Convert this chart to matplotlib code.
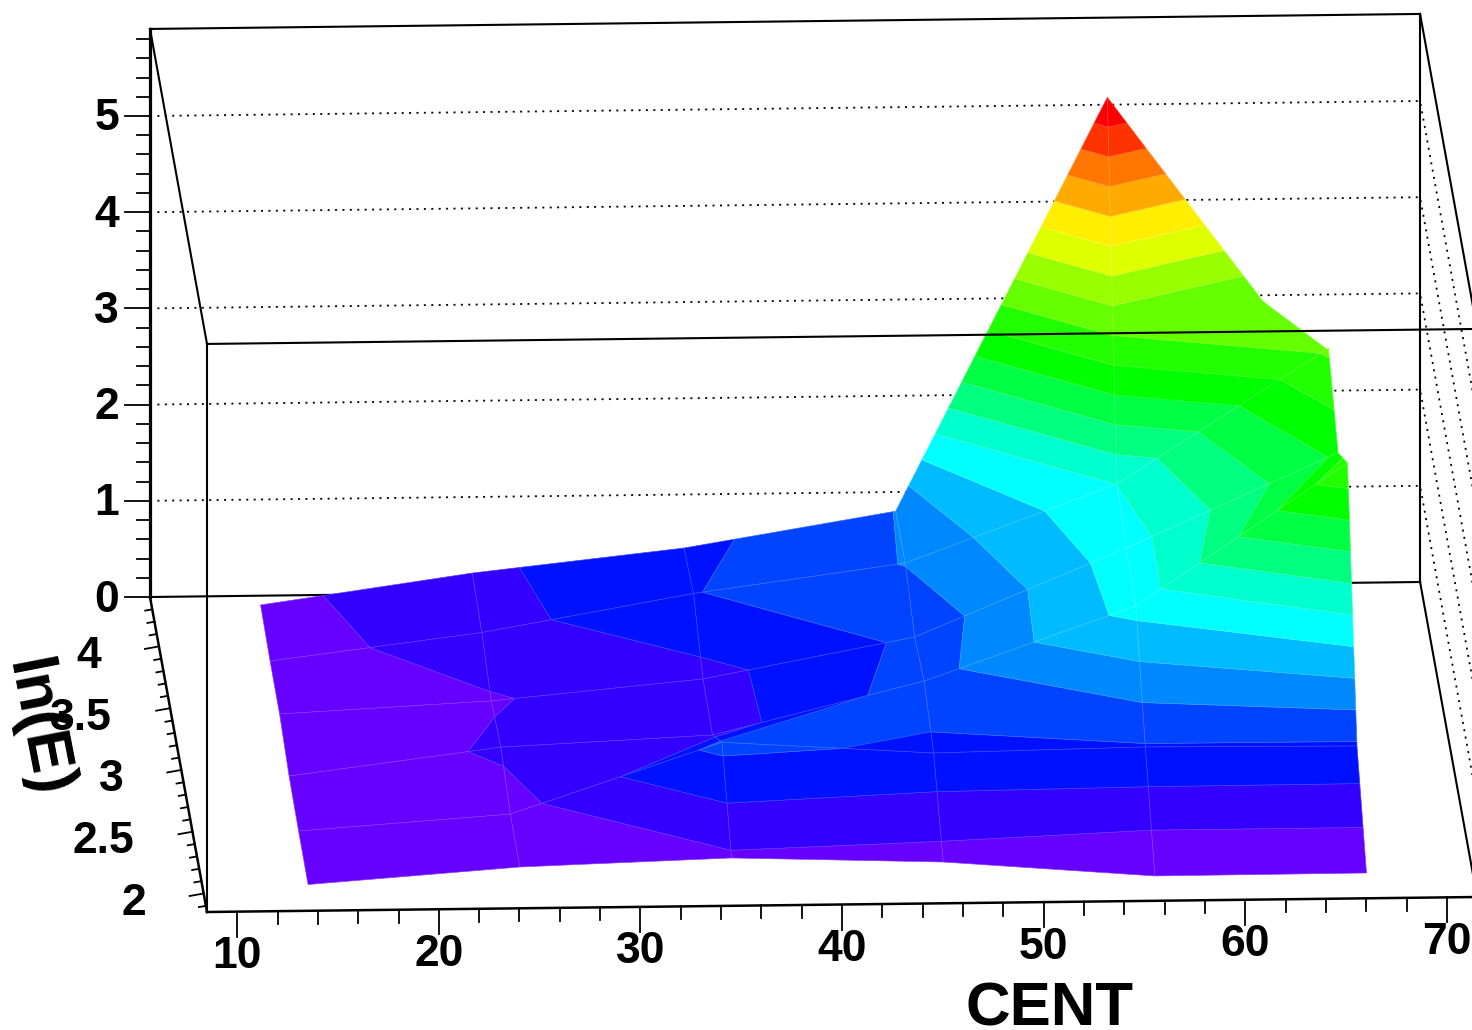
import matplotlib
matplotlib.use("Agg")
import matplotlib.pyplot as plt
from matplotlib.collections import PolyCollection

# ---------- data ----------
x_centers = [13.75, 24.25, 34.75, 45.25, 55.75, 66.25]
y_centers = [2.0625, 2.4875, 2.9125, 3.3375, 3.7625, 4.1875]
z_row0 = [0.00, 0.156, 0.224, 0.156, -0.015, -0.01]
z_row1 = [0.01, 0.16, 0.88, 0.743, 0.78, 0.764]
z_row2 = [0.036, 0.31, 0.41, 0.945, 1.70, 3.16]
z_row3 = [0.135, 0.245, 0.447, 0.857, 1.757, 2.72]
z_row4 = [0.14, 0.41, 0.79, 1.08, 1.876, 3.26]
z_row5 = [0.177, 0.483, 0.717, 1.074, 5.35, 2.44]
z_grid = [z_row0, z_row1, z_row2, z_row3, z_row4, z_row5]

palette = ["#6600ff", "#3300ff", "#0011ff", "#0044ff", "#0088ff",
           "#00bbff", "#00ffff", "#00ffcc", "#00ff80", "#00ff44",
           "#00ff00", "#22ff00", "#66ff00", "#99ff00", "#ddff00",
           "#ffee00", "#ffaa00", "#ff7700", "#ff3300", "#ff0000"]
z_top_level = 5.35

x_ticks_major = [10, 20, 30, 40, 50, 60, 70]
x_ticks_minor = list(range(10, 71, 2))
y_ticks_major = [2, 2.5, 3, 3.5, 4]
y_tick_labels = ["2", "2.5", "3", "3.5", "4"]
y_ticks_minor = [1.9 + 0.1 * i for i in range(25)]
z_ticks_major = [0, 1, 2, 3, 4, 5]
z_ticks_minor = [0.2 * i for i in range(30)]

XMIN, XMAX, YMIN, YMAX, ZMAX = 8.5, 71.5, 1.85, 4.4, 5.905

plt.rcParams["font.family"] = ["Liberation Sans", "DejaVu Sans"]
plt.rcParams["font.weight"] = "bold"


def project(x, y, z):
    f = (y - YMIN) / (YMAX - YMIN)
    return (207 + 20.16 * (x - XMIN) - 57 * f,
            912 - 0.238 * (x - XMIN) - 315 * f - 96.2 * z)


def clip(poly, level, keep_above):
    out = []
    n = len(poly)
    for i in range(n):
        a, b = poly[i], poly[(i + 1) % n]
        ina = a[2] >= level if keep_above else a[2] <= level
        inb = b[2] >= level if keep_above else b[2] <= level
        if ina:
            out.append(a)
        if ina != inb:
            t = (level - a[2]) / (b[2] - a[2])
            out.append((a[0] + t * (b[0] - a[0]), a[1] + t * (b[1] - a[1]), level))
    return out


def lighten(c, amt=0.22):
    r, g, b = matplotlib.colors.to_rgb(c)
    return (r + (1 - r) * amt, g + (1 - g) * amt, b + (1 - b) * amt)


fig = plt.figure(figsize=(14.72, 10.30), dpi=100)
ax = fig.add_axes([0, 0, 1, 1])
ax.set_xlim(0, 1472)
ax.set_ylim(1030, 0)
ax.axis("off")

LW = 1.5
black = "black"


def seg(p, q, lw=LW, z=2):
    ax.plot([p[0], q[0]], [p[1], q[1]], color=black, lw=lw, zorder=z,
            solid_capstyle="projecting")


# back grid lines (dotted)
dots = (0, (1.1, 3.0))
for zt in z_ticks_major[1:]:
    a = project(XMIN, YMAX, zt)
    b = project(XMAX, YMAX, zt)
    c = project(XMAX, YMIN, zt)
    ax.plot([a[0], b[0], c[0]], [a[1], b[1], c[1]], color=black, lw=1.3,
            linestyle=dots, zorder=1)

# back box
seg(project(XMIN, YMAX, 0), project(XMAX, YMAX, 0))
seg(project(XMIN, YMAX, ZMAX), project(XMAX, YMAX, ZMAX))
seg(project(XMAX, YMAX, 0), project(XMAX, YMAX, ZMAX))
seg(project(XMAX, YMAX, ZMAX), project(XMAX, YMIN, ZMAX))
seg(project(XMAX, YMAX, 0), project(XMAX, YMIN, 0))
seg(project(XMIN, YMAX, ZMAX), project(XMIN, YMIN, ZMAX))

# surface, far cells first, split at the colour levels
polys, faces, edges = [], [], []
step = z_top_level / len(palette)
for r in range(len(y_centers) - 2, -1, -1):
    for j in range(len(x_centers) - 2, -1, -1):
        cell = [(x_centers[j], y_centers[r], z_grid[r][j]),
                (x_centers[j + 1], y_centers[r], z_grid[r][j + 1]),
                (x_centers[j + 1], y_centers[r + 1], z_grid[r + 1][j + 1]),
                (x_centers[j], y_centers[r + 1], z_grid[r + 1][j])]
        for k, col in enumerate(palette):
            p = cell
            if k > 0:
                p = clip(p, k * step, True)
            if p and k < len(palette) - 1:
                p = clip(p, (k + 1) * step, False)
            if len(p) >= 3:
                polys.append([project(*v) for v in p])
                faces.append(col)
                edges.append(lighten(col))
ax.add_collection(PolyCollection(polys, facecolors=faces, edgecolors=edges,
                                 linewidths=0.45, zorder=3))

# front box, over the surface
seg(project(XMIN, YMIN, ZMAX), project(XMAX, YMIN, ZMAX), z=4)
seg(project(XMIN, YMIN, 0), project(XMIN, YMIN, ZMAX), z=4)
seg(project(XMIN, YMIN, 0), project(XMAX, YMIN, 0), lw=1.8, z=4)
seg(project(XMIN, YMIN, 0), project(XMIN, YMAX, 0), lw=1.8, z=4)
seg(project(XMIN, YMAX, 0), project(XMIN, YMAX, ZMAX), lw=2.3, z=4)

FS = 32

# x ticks
for v in x_ticks_minor:
    px, py = project(v, YMIN, 0)
    L = 25 if v in x_ticks_major else 13
    ax.plot([px, px], [py, py + L], color=black, lw=1.3, zorder=4)
for v in x_ticks_major:
    px, py = project(v, YMIN, 0)
    ax.text(px, py + 45, str(v), ha="center", va="center", fontsize=FS,
            fontweight="bold")

# y ticks
for v in y_ticks_minor:
    px, py = project(XMIN, v, 0)
    L = 14 if any(abs(v - m) < 1e-6 for m in y_ticks_major) else 7
    ax.plot([px, px - L], [py, py + 0.18 * L], color=black, lw=1.3, zorder=4)
for v, lab in zip(y_ticks_major, y_tick_labels):
    px, py = project(XMIN, v, 0)
    ax.text(px - 58, py + 10, lab, ha="right", va="center", fontsize=FS,
            fontweight="bold")

# z ticks
for v in z_ticks_minor:
    if v > ZMAX:
        continue
    px, py = project(XMIN, YMAX, v)
    L = 25 if any(abs(v - m) < 1e-6 for m in z_ticks_major) else 13
    ax.plot([px, px - L], [py, py], color=black, lw=1.3, zorder=4)
for v in z_ticks_major:
    px, py = project(XMIN, YMAX, v)
    ax.text(px - 31, py + 3, str(v), ha="right", va="center", fontsize=FS,
            fontweight="bold")

# axis titles
ax.text(1050, 1026, "CENT", ha="center", va="baseline", fontsize=44.5,
        fontweight="bold")
ax.text(37, 729, "ln(E)", ha="center", va="center", rotation=-79,
        rotation_mode="anchor", fontsize=45, fontweight="bold")

fig.savefig("out.png", dpi=100)
